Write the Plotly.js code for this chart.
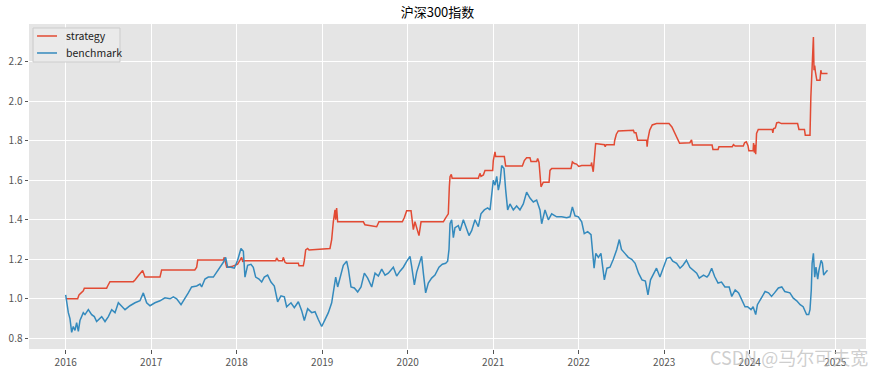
<!DOCTYPE html>
<html>
<head>
<meta charset="utf-8">
<script src="https://cdn.plot.ly/plotly-3.0.1.min.js"></script>
<style>html,body{margin:0;padding:0;background:#fff;}#chart{width:875px;height:374px;}</style>
</head>
<body>
<div id="chart"></div>
<script>
// Chart title & series names
const chartTitle = "沪深300指数";
const seriesNames = ["strategy", "benchmark"];
const seriesColors = ["#E24A33", "#348ABD"];
const watermark = "CSDN @马尔可夫宽";

// x-axis ticks (years)
const xTickVals = [2016, 2017, 2018, 2019, 2020, 2021, 2022, 2023, 2024, 2025];
const xTickText = ["2016", "2017", "2018", "2019", "2020", "2021", "2022", "2023", "2024", "2025"];
const yTickVals = [0.8, 1.0, 1.2, 1.4, 1.6, 1.8, 2.0, 2.2];

// strategy (time in decimal years, value)
const strategyT = [2016.003,2016.140,2016.156,2016.206,2016.218,2016.479,2016.491,2016.518,2016.791,2016.811,2016.842,2016.900,2016.927,2017.103,2017.122,2017.510,2017.532,2017.544,2017.844,2017.855,2017.883,2017.941,2018.011,2018.039,2018.058,2018.070,2018.097,2018.456,2018.467,2018.487,2018.535,2018.545,2018.565,2018.584,2018.721,2018.729,2018.779,2018.791,2018.807,2018.830,2018.846,2019.091,2019.111,2019.130,2019.150,2019.158,2019.169,2019.181,2019.481,2019.500,2019.637,2019.664,2019.937,2019.960,2019.988,2020.039,2020.066,2020.085,2020.105,2020.132,2020.156,2020.417,2020.444,2020.475,2020.487,2020.495,2020.510,2020.520,2020.826,2020.845,2020.857,2020.885,2020.904,2020.994,2021.001,2021.021,2021.029,2021.130,2021.146,2021.341,2021.364,2021.391,2021.430,2021.442,2021.508,2021.520,2021.536,2021.547,2021.559,2021.586,2021.653,2021.664,2021.684,2021.910,2021.926,2021.949,2021.975,2022.000,2022.035,2022.145,2022.150,2022.170,2022.180,2022.198,2022.300,2022.310,2022.320,2022.415,2022.420,2022.440,2022.463,2022.640,2022.650,2022.670,2022.690,2022.795,2022.800,2022.810,2022.830,2022.860,2022.910,2023.056,2023.090,2023.125,2023.165,2023.180,2023.300,2023.320,2023.330,2023.560,2023.570,2023.630,2023.640,2023.796,2023.810,2023.830,2023.925,2023.940,2023.960,2023.980,2023.990,2024.040,2024.045,2024.055,2024.060,2024.070,2024.080,2024.100,2024.264,2024.270,2024.280,2024.300,2024.315,2024.340,2024.370,2024.560,2024.576,2024.640,2024.650,2024.705,2024.715,2024.730,2024.745,2024.752,2024.760,2024.768,2024.785,2024.822,2024.832,2024.840,2024.910];
const strategyV = [1.0,1.0,1.02,1.04,1.054,1.054,1.065,1.087,1.087,1.095,1.113,1.143,1.11,1.11,1.146,1.146,1.16,1.196,1.196,1.21,1.16,1.163,1.175,1.196,1.21,1.19,1.193,1.193,1.207,1.193,1.193,1.21,1.185,1.18,1.18,1.167,1.167,1.193,1.247,1.255,1.247,1.255,1.30,1.39,1.45,1.40,1.46,1.39,1.39,1.375,1.365,1.39,1.39,1.41,1.446,1.446,1.35,1.39,1.36,1.32,1.39,1.39,1.41,1.43,1.567,1.618,1.63,1.61,1.61,1.635,1.62,1.627,1.65,1.65,1.70,1.744,1.72,1.72,1.672,1.672,1.70,1.714,1.714,1.695,1.695,1.71,1.69,1.60,1.567,1.59,1.59,1.65,1.66,1.66,1.693,1.685,1.682,1.67,1.675,1.675,1.69,1.643,1.69,1.786,1.78,1.77,1.78,1.78,1.80,1.833,1.85,1.853,1.84,1.84,1.803,1.803,1.77,1.81,1.853,1.88,1.887,1.887,1.87,1.837,1.795,1.787,1.79,1.805,1.778,1.778,1.756,1.756,1.77,1.77,1.78,1.773,1.773,1.79,1.795,1.775,1.75,1.75,1.788,1.74,1.78,1.732,1.837,1.857,1.857,1.84,1.862,1.865,1.89,1.893,1.887,1.887,1.857,1.857,1.828,1.828,2.022,2.22,2.325,2.157,2.18,2.15,2.106,2.106,2.157,2.14,2.14];

// benchmark (time in decimal years, value)
const benchmarkT = [2016.000,2016.011,2016.031,2016.050,2016.070,2016.089,2016.109,2016.128,2016.148,2016.167,2016.206,2016.226,2016.265,2016.304,2016.335,2016.362,2016.421,2016.460,2016.499,2016.538,2016.577,2016.616,2016.655,2016.694,2016.752,2016.811,2016.869,2016.908,2016.947,2016.986,2017.044,2017.103,2017.161,2017.220,2017.259,2017.298,2017.349,2017.395,2017.434,2017.473,2017.532,2017.571,2017.590,2017.629,2017.668,2017.727,2017.766,2017.805,2017.844,2017.871,2017.894,2017.933,2017.972,2018.011,2018.050,2018.078,2018.097,2018.128,2018.167,2018.194,2018.222,2018.261,2018.292,2018.323,2018.362,2018.401,2018.440,2018.479,2018.518,2018.557,2018.584,2018.635,2018.674,2018.721,2018.760,2018.791,2018.830,2018.877,2018.916,2018.955,2018.994,2019.033,2019.072,2019.111,2019.142,2019.158,2019.181,2019.208,2019.247,2019.286,2019.306,2019.337,2019.376,2019.415,2019.454,2019.493,2019.532,2019.579,2019.618,2019.657,2019.696,2019.735,2019.773,2019.832,2019.871,2019.910,2019.949,2019.988,2020.027,2020.046,2020.078,2020.105,2020.144,2020.163,2020.183,2020.210,2020.241,2020.280,2020.319,2020.366,2020.405,2020.444,2020.467,2020.483,2020.495,2020.514,2020.534,2020.553,2020.592,2020.612,2020.651,2020.690,2020.717,2020.748,2020.787,2020.826,2020.857,2020.896,2020.935,2020.963,2020.982,2021.001,2021.021,2021.041,2021.060,2021.080,2021.099,2021.126,2021.146,2021.169,2021.196,2021.235,2021.274,2021.313,2021.352,2021.391,2021.430,2021.469,2021.508,2021.547,2021.567,2021.606,2021.645,2021.684,2021.742,2021.801,2021.859,2021.898,2021.926,2021.957,2021.996,2022.035,2022.065,2022.105,2022.144,2022.160,2022.180,2022.200,2022.230,2022.260,2022.300,2022.330,2022.366,2022.405,2022.445,2022.475,2022.500,2022.540,2022.580,2022.620,2022.660,2022.700,2022.740,2022.780,2022.810,2022.840,2022.870,2022.910,2022.950,2022.990,2023.030,2023.070,2023.100,2023.145,2023.185,2023.220,2023.260,2023.300,2023.340,2023.380,2023.410,2023.460,2023.500,2023.520,2023.555,2023.590,2023.630,2023.670,2023.710,2023.760,2023.790,2023.830,2023.870,2023.905,2023.945,2023.975,2024.015,2024.040,2024.070,2024.090,2024.120,2024.150,2024.180,2024.220,2024.255,2024.290,2024.335,2024.375,2024.410,2024.470,2024.510,2024.550,2024.590,2024.625,2024.665,2024.690,2024.705,2024.720,2024.730,2024.745,2024.760,2024.775,2024.795,2024.810,2024.835,2024.850,2024.865,2024.890,2024.910];
const benchmarkV = [1.02,0.98,0.93,0.90,0.83,0.86,0.84,0.88,0.835,0.89,0.93,0.92,0.945,0.92,0.91,0.885,0.91,0.885,0.91,0.945,0.93,0.98,0.965,0.945,0.965,0.98,0.99,1.03,0.98,0.965,0.98,0.99,1.005,1.0,1.01,1.0,0.97,1.0,1.03,1.06,1.065,1.075,1.06,1.10,1.11,1.11,1.135,1.155,1.185,1.21,1.16,1.16,1.155,1.195,1.255,1.24,1.11,1.17,1.175,1.16,1.11,1.10,1.085,1.11,1.12,1.085,1.065,0.985,1.015,1.01,0.96,0.98,0.955,0.985,0.94,0.89,0.95,0.93,0.935,0.895,0.86,0.895,0.93,0.98,1.08,1.11,1.06,1.11,1.17,1.19,1.15,1.06,1.055,1.035,1.06,1.13,1.105,1.06,1.13,1.115,1.15,1.12,1.13,1.16,1.115,1.14,1.16,1.19,1.215,1.165,1.07,1.135,1.19,1.215,1.13,1.03,1.08,1.105,1.12,1.16,1.175,1.18,1.19,1.25,1.38,1.40,1.31,1.36,1.37,1.345,1.40,1.355,1.32,1.345,1.40,1.365,1.43,1.45,1.46,1.45,1.515,1.60,1.575,1.62,1.55,1.59,1.675,1.66,1.55,1.45,1.48,1.45,1.47,1.45,1.48,1.54,1.51,1.49,1.50,1.45,1.38,1.45,1.40,1.43,1.415,1.415,1.41,1.415,1.465,1.42,1.415,1.39,1.33,1.34,1.325,1.23,1.155,1.23,1.21,1.23,1.096,1.155,1.16,1.20,1.25,1.30,1.25,1.23,1.21,1.20,1.18,1.13,1.096,1.09,1.02,1.096,1.12,1.155,1.11,1.155,1.205,1.21,1.19,1.18,1.155,1.17,1.195,1.16,1.145,1.13,1.105,1.12,1.11,1.12,1.155,1.113,1.08,1.085,1.06,1.06,1.012,1.045,1.03,0.995,0.96,0.96,0.945,0.96,0.92,0.97,0.995,1.012,1.037,1.03,1.012,1.03,1.055,1.06,1.037,1.03,1.003,0.99,0.97,0.96,0.92,0.92,0.945,1.045,1.18,1.23,1.11,1.16,1.10,1.145,1.195,1.18,1.12,1.135,1.145];

const FONT = '"Noto Sans CJK SC", "DejaVu Sans", sans-serif';
const LFONT = '"Noto Sans CJK SC", "Noto Sans", sans-serif';

const traces = [
  {x: strategyT, y: strategyV, name: seriesNames[0], type: 'scatter', mode: 'lines',
   line: {color: seriesColors[0], width: 1.5}},
  {x: benchmarkT, y: benchmarkV, name: seriesNames[1], type: 'scatter', mode: 'lines',
   line: {color: seriesColors[1], width: 1.5}}
];

// compact matplotlib-style legend box (paper coordinates)
const legendShapes = [
  {type: 'rect', xref: 'paper', yref: 'paper', x0: 0.0048, x1: 0.1087, y0: 0.8831, y1: 0.9877,
   fillcolor: 'rgba(234,234,234,0.9)', line: {color: '#CCCCCC', width: 1}, layer: 'above'},
  {type: 'line', xref: 'paper', yref: 'paper', x0: 0.0096, x1: 0.0335, y0: 0.9631, y1: 0.9631,
   line: {color: seriesColors[0], width: 1.5}, layer: 'above'},
  {type: 'line', xref: 'paper', yref: 'paper', x0: 0.0096, x1: 0.0335, y0: 0.9108, y1: 0.9108,
   line: {color: seriesColors[1], width: 1.5}, layer: 'above'}
];
const legendTexts = seriesNames.map((n, i) => ({
  text: n, xref: 'paper', yref: 'paper', x: 0.0418, y: i === 0 ? 0.9631 : 0.9108,
  xanchor: 'left', yanchor: 'middle', showarrow: false,
  font: {family: LFONT, size: 10.5, color: '#222222'}
}));

const layout = {
  width: 875, height: 374,
  margin: {l: 29, r: 9, t: 24, b: 25, pad: 0},
  paper_bgcolor: '#FFFFFF',
  plot_bgcolor: '#E5E5E5',
  font: {family: FONT, size: 10, color: '#555555'},
  title: {text: chartTitle, x: 0.5, xanchor: 'center', y: 0.968, yanchor: 'middle',
          font: {family: FONT, size: 13, color: '#000000'}},
  showlegend: false,
  xaxis: {type: 'linear', range: [2015.571, 2025.36], tickvals: xTickVals, ticktext: xTickText,
          showgrid: true, gridcolor: '#FFFFFF', gridwidth: 1, zeroline: false, showline: false,
          ticks: 'outside', ticklen: 3.5, tickwidth: 1, tickcolor: '#555555',
          tickfont: {family: FONT, size: 10, color: '#555555'}},
  yaxis: {range: [0.746, 2.391], tickvals: yTickVals, tickformat: '.1f',
          showgrid: true, gridcolor: '#FFFFFF', gridwidth: 1, zeroline: false, showline: false,
          ticks: 'outside', ticklen: 3.5, tickwidth: 1, tickcolor: '#555555',
          tickfont: {family: FONT, size: 10, color: '#555555'}},
  shapes: legendShapes,
  annotations: legendTexts.concat([
    {text: watermark, xref: 'paper', yref: 'paper', x: 1.005, y: -0.025, xanchor: 'right', yanchor: 'middle',
     showarrow: false, font: {family: FONT, size: 18, color: 'rgba(185,185,185,0.7)'}}
  ])
};

Plotly.newPlot('chart', traces, layout, {displayModeBar: false, staticPlot: true});
</script>
</body>
</html>
